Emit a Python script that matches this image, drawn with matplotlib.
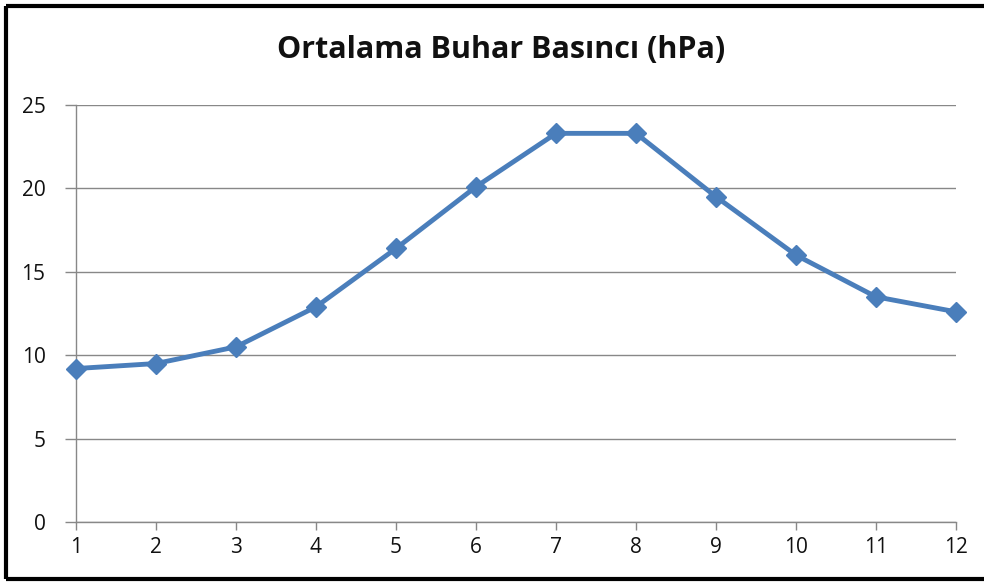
import matplotlib
matplotlib.use("Agg")
import matplotlib.pyplot as plt
from matplotlib.lines import Line2D

months = [1, 2, 3, 4, 5, 6, 7, 8, 9, 10, 11, 12]
values = [9.2, 9.5, 10.5, 12.9, 16.4, 20.1, 23.3, 23.3, 19.5, 16.0, 13.5, 12.6]
yticks = [0, 5, 10, 15, 20, 25]
title = "Ortalama Buhar Basıncı (hPa)"

plt.rcParams['font.family'] = ['Open Sans', 'DejaVu Sans']

fig = plt.figure(figsize=(9.84, 5.83), dpi=100)
ax = fig.add_axes([76/984, 61/583, (956-76)/984, (522-105)/583])

ax.plot(months, values, color='#4A7EBB', linewidth=3.5, marker='D',
        markersize=10, markerfacecolor='#4A7EBB', markeredgecolor='#4A7EBB',
        zorder=3, clip_on=False)

ax.set_xlim(1, 12)
ax.set_ylim(0, 25)
ax.set_xticks(months)
ax.set_yticks(yticks)
ax.tick_params(axis='both', labelsize=15, colors='#888888', labelcolor='#111111',
               width=1, direction='out')
ax.tick_params(axis='x', length=6, pad=5)
ax.tick_params(axis='y', length=8, pad=14)
ax.grid(axis='y', color='#888888', linewidth=1)
ax.set_axisbelow(True)
for s in ['top', 'right']:
    ax.spines[s].set_visible(False)
for s in ['left', 'bottom']:
    ax.spines[s].set_color('#888888')
    ax.spines[s].set_linewidth(1)

fig.text(0.509, 1 - 50/583, title, ha='center', va='center',
         fontsize=22, fontweight='bold', color='#111111')

# outer frame (left, top, bottom)
fig.add_artist(Line2D([6/984, 6/984], [4/583, 577/583], color='black', linewidth=3,
                      solid_capstyle='butt', transform=fig.transFigure))
fig.add_artist(Line2D([6/984, 1.0], [577/583, 577/583], color='black', linewidth=3,
                      solid_capstyle='butt', transform=fig.transFigure))
fig.add_artist(Line2D([6/984, 1.0], [4/583, 4/583], color='black', linewidth=3,
                      solid_capstyle='butt', transform=fig.transFigure))

fig.savefig("out.png", dpi=100)
